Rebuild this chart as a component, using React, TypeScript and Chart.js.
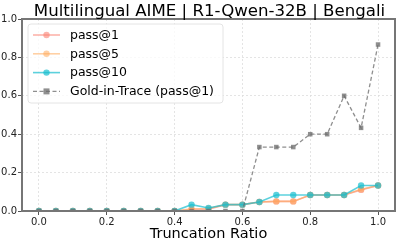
import React, { useEffect, useRef } from 'react';
import { Chart, registerables } from 'chart.js';
Chart.register(...registerables);

const titleText = 'Multilingual AIME | R1-Qwen-32B | Bengali';
const xLabel = 'Truncation Ratio';
const ratios = [0, 0.05, 0.1, 0.15, 0.2, 0.25, 0.3, 0.35, 0.4, 0.45, 0.5, 0.55, 0.6, 0.65, 0.7, 0.75, 0.8, 0.85, 0.9, 0.95, 1.0];
const pass1 = [0, 0, 0, 0, 0, 0, 0, 0, 0, 0.007, 0.01, 0.033, 0.033, 0.047, 0.05, 0.05, 0.083, 0.083, 0.083, 0.11, 0.133];
const pass5 = [0, 0, 0, 0, 0, 0, 0, 0, 0, 0.012, 0.013, 0.033, 0.033, 0.047, 0.05, 0.05, 0.083, 0.083, 0.083, 0.113, 0.133];
const pass10 = [0, 0, 0, 0, 0, 0, 0, 0, 0, 0.033, 0.016, 0.033, 0.033, 0.047, 0.083, 0.083, 0.083, 0.083, 0.083, 0.133, 0.133];
const gold = [0, 0, 0, 0, 0, 0, 0, 0, 0, 0, 0, 0, 0, 0.333, 0.333, 0.333, 0.4, 0.4, 0.6, 0.433, 0.867];
const xTicks = [0, 0.2, 0.4, 0.6, 0.8, 1.0];

const seriesNames = ['pass@1', 'pass@5', 'pass@10', 'Gold-in-Trace (pass@1)'];
const seriesValues = [pass1, pass5, pass10, gold];
const seriesColors = ['rgba(250,128,114,0.6)', 'rgba(255,170,90,0.55)', 'rgba(23,190,207,0.7)', 'rgba(105,105,105,0.75)'];
const FONT = "'DejaVu Sans', sans-serif";

const overlay = {
  id: 'overlay',
  afterDatasetsDraw(chart: any) {
    const { ctx, chartArea } = chart;
    const { left, right, top, bottom } = chartArea;
    ctx.save();
    // frame
    ctx.strokeStyle = '#767676';
    ctx.lineWidth = 2;
    ctx.setLineDash([]);
    ctx.strokeRect(left, top, right - left, bottom - top);
    // title
    ctx.fillStyle = '#000';
    ctx.font = `16.6px ${FONT}`;
    ctx.textAlign = 'center';
    ctx.textBaseline = 'alphabetic';
    ctx.fillText(titleText, (left + right) / 2 + 1, 15.5);
    // legend
    const bx = left + 6, by = top + 5, bw = 195, bh = 79;
    ctx.beginPath();
    const r = 3;
    ctx.moveTo(bx + r, by);
    ctx.arcTo(bx + bw, by, bx + bw, by + bh, r);
    ctx.arcTo(bx + bw, by + bh, bx, by + bh, r);
    ctx.arcTo(bx, by + bh, bx, by, r);
    ctx.arcTo(bx, by, bx + bw, by, r);
    ctx.closePath();
    ctx.fillStyle = 'rgba(255,255,255,0.8)';
    ctx.fill();
    ctx.strokeStyle = '#e4e4e4';
    ctx.lineWidth = 1;
    ctx.stroke();
    chart.data.datasets.forEach((ds: any, i: number) => {
      const y = by + 11 + i * 18.8;
      const x0 = bx + 5, x1 = bx + 32;
      ctx.strokeStyle = ds.borderColor;
      ctx.lineWidth = ds.borderWidth;
      ctx.setLineDash(ds.borderDash || []);
      ctx.beginPath();
      ctx.moveTo(x0, y);
      ctx.lineTo(x1, y);
      ctx.stroke();
      ctx.setLineDash([]);
      ctx.fillStyle = ds.pointBackgroundColor;
      const mx = (x0 + x1) / 2;
      if (ds.pointStyle === 'rect') {
        ctx.fillRect(mx - 3, y - 3, 6, 6);
      } else {
        ctx.beginPath();
        ctx.arc(mx, y, 3.2, 0, Math.PI * 2);
        ctx.fill();
      }
      ctx.fillStyle = '#000';
      ctx.font = `12.5px ${FONT}`;
      ctx.textAlign = 'left';
      ctx.textBaseline = 'middle';
      ctx.fillText(ds.label, bx + 42, y + 0.5);
    });
    ctx.restore();
  },
};

export default function App() {
  const ref = useRef<HTMLCanvasElement | null>(null);
  useEffect(() => {
    if (!ref.current) return;
    const datasets = seriesNames.map((name, i) => ({
      label: name,
      order: 3 - i,
      data: ratios.map((x, j) => ({ x, y: seriesValues[i][j] })),
      borderColor: seriesColors[i],
      backgroundColor: seriesColors[i],
      pointBackgroundColor: seriesColors[i],
      pointBorderColor: seriesColors[i],
      pointBorderWidth: 0,
      borderWidth: i === 3 ? 1.3 : 1.6,
      borderDash: i === 3 ? [4, 2.5] : undefined,
      pointStyle: i === 3 ? 'rect' : 'circle',
      pointRadius: 3.2,
      tension: 0,
      fill: false,
    }));
    const chart = new Chart(ref.current, {
      type: 'line',
      data: { datasets },
      plugins: [overlay],
      options: {
        animation: false,
        responsive: false,
        maintainAspectRatio: false,
        layout: { padding: { top: 19, right: 1, left: 0, bottom: 0 } },
        plugins: { legend: { display: false }, title: { display: false }, tooltip: { enabled: false } },
        scales: {
          x: {
            type: 'linear',
            min: -0.05,
            max: 1.05,
            afterBuildTicks: (axis: any) => { axis.ticks = xTicks.map((v) => ({ value: v })); },
            afterFit: (scale: any) => { scale.height = 34; },
            ticks: { font: { family: FONT, size: 10 }, color: '#222', padding: 1, callback: (v: any) => Number(v).toFixed(1), maxRotation: 0, autoSkip: false },
            grid: { color: '#dddddd', lineWidth: 0.8, tickLength: 4, tickColor: '#555', tickWidth: 1 },
            border: { display: false, dash: [2, 2] },
            title: { display: true, text: xLabel, font: { family: FONT, size: 14.5 }, color: '#000', padding: { top: 0, bottom: 2 } },
          },
          y: {
            type: 'linear',
            min: 0,
            max: 1,
            afterFit: (scale: any) => { scale.width = 22; },
            ticks: { stepSize: 0.2, font: { family: FONT, size: 10 }, color: '#222', padding: 1, callback: (v: any) => Number(v).toFixed(1) },
            grid: { color: '#dddddd', lineWidth: 0.8, tickLength: 4, tickColor: '#555', tickWidth: 1 },
            border: { display: false, dash: [2, 2] },
          },
        },
      },
    });
    return () => chart.destroy();
  }, []);
  return (
    <div style={{ position: 'fixed', left: 0, top: 0, width: 399, height: 245, background: '#fff' }}>
      <canvas ref={ref} width={399} height={245} style={{ width: 399, height: 245 }} />
    </div>
  );
}
